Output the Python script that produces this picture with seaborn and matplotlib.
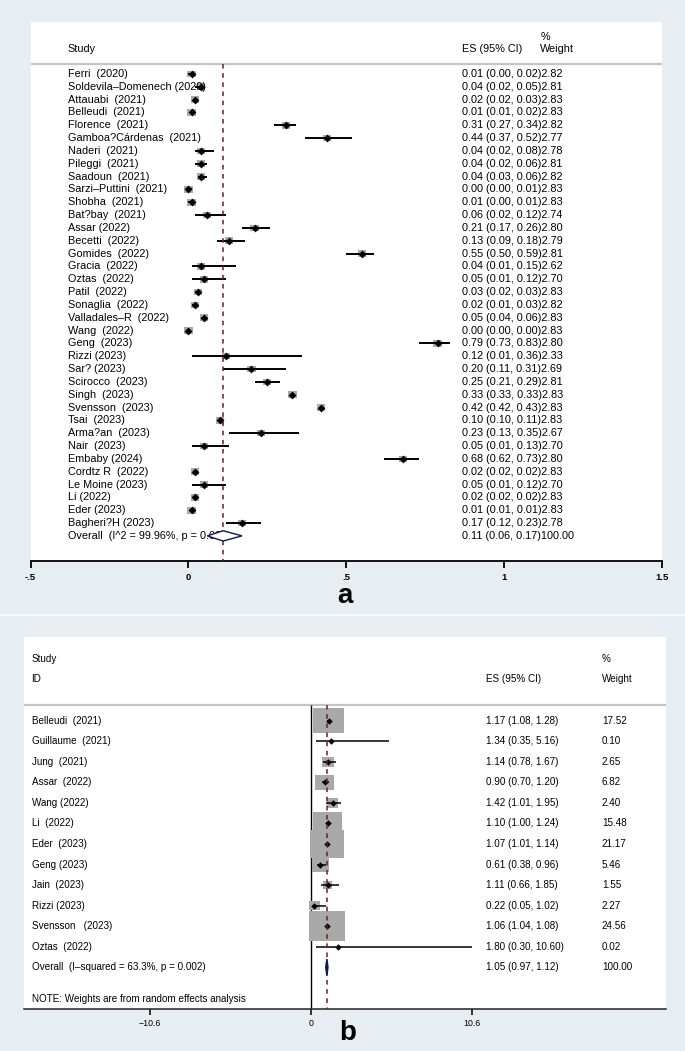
import matplotlib
matplotlib.use("Agg")
import matplotlib.pyplot as plt
import seaborn as sns
import pandas as pd

# ---- panel a : proportions ----
studies_a = [
    "Ferri  (2020)", "Soldevila\u2013Domenech (2020)", "Attauabi  (2021)", "Belleudi  (2021)",
    "Florence  (2021)", "Gamboa?C\u00e1rdenas  (2021)", "Naderi  (2021)", "Pileggi  (2021)",
    "Saadoun  (2021)", "Sarzi\u2013Puttini  (2021)", "Shobha  (2021)", "Bat?bay  (2021)",
    "Assar (2022)", "Becetti  (2022)", "Gomides  (2022)", "Gracia  (2022)",
    "Oztas  (2022)", "Patil  (2022)", "Sonaglia  (2022)", "Valladales\u2013R  (2022)",
    "Wang  (2022)", "Geng  (2023)", "Rizzi (2023)", "Sar? (2023)",
    "Scirocco  (2023)", "Singh  (2023)", "Svensson  (2023)", "Tsai  (2023)",
    "Arma?an  (2023)", "Nair  (2023)", "Embaby (2024)", "Cordtz R  (2022)",
    "Le Moine (2023)", "Li (2022)", "Eder (2023)", "Bagheri?H (2023)",
]
es_a = [0.01, 0.04, 0.02, 0.01, 0.31, 0.44, 0.04, 0.04, 0.04, 0.00, 0.01, 0.06,
        0.21, 0.13, 0.55, 0.04, 0.05, 0.03, 0.02, 0.05, 0.00, 0.79, 0.12, 0.20,
        0.25, 0.33, 0.42, 0.10, 0.23, 0.05, 0.68, 0.02, 0.05, 0.02, 0.01, 0.17]
lo_a = [0.00, 0.02, 0.02, 0.01, 0.27, 0.37, 0.02, 0.02, 0.03, 0.00, 0.00, 0.02,
        0.17, 0.09, 0.50, 0.01, 0.01, 0.02, 0.01, 0.04, 0.00, 0.73, 0.01, 0.11,
        0.21, 0.33, 0.42, 0.10, 0.13, 0.01, 0.62, 0.02, 0.01, 0.02, 0.01, 0.12]
hi_a = [0.02, 0.05, 0.03, 0.02, 0.34, 0.52, 0.08, 0.06, 0.06, 0.01, 0.01, 0.12,
        0.26, 0.18, 0.59, 0.15, 0.12, 0.03, 0.03, 0.06, 0.00, 0.83, 0.36, 0.31,
        0.29, 0.33, 0.43, 0.11, 0.35, 0.13, 0.73, 0.02, 0.12, 0.02, 0.01, 0.23]
wt_a = [2.82, 2.81, 2.83, 2.83, 2.82, 2.77, 2.78, 2.81, 2.82, 2.83, 2.83, 2.74,
        2.80, 2.79, 2.81, 2.62, 2.70, 2.83, 2.82, 2.83, 2.83, 2.80, 2.33, 2.69,
        2.81, 2.83, 2.83, 2.83, 2.67, 2.70, 2.80, 2.83, 2.70, 2.83, 2.83, 2.78]
overall_a_label = "Overall  (I^2 = 99.96%, p = 0.00)"
overall_a = [0.11, 0.06, 0.17, 100.00]   # es, lo, hi, weight
ticks_a = [-0.5, 0, 0.5, 1, 1.5]
ticklabels_a = ["-.5", "0", ".5", "1", "1.5"]

# ---- panel b : ratios ----
studies_b = [
    "Belleudi  (2021)", "Guillaume  (2021)", "Jung  (2021)", "Assar  (2022)",
    "Wang (2022)", "Li  (2022)", "Eder  (2023)", "Geng (2023)",
    "Jain  (2023)", "Rizzi (2023)", "Svensson   (2023)", "Oztas  (2022)",
]
es_b = [1.17, 1.34, 1.14, 0.90, 1.42, 1.10, 1.07, 0.61, 1.11, 0.22, 1.06, 1.80]
lo_b = [1.08, 0.35, 0.78, 0.70, 1.01, 1.00, 1.01, 0.38, 0.66, 0.05, 1.04, 0.30]
hi_b = [1.28, 5.16, 1.67, 1.20, 1.95, 1.24, 1.14, 0.96, 1.85, 1.02, 1.08, 10.60]
wt_b = [17.52, 0.10, 2.65, 6.82, 2.40, 15.48, 21.17, 5.46, 1.55, 2.27, 24.56, 0.02]
overall_b_label = "Overall  (I\u2013squared = 63.3%, p = 0.002)"
overall_b = [1.05, 0.97, 1.12, 100.00]
note_b = "NOTE: Weights are from random effects analysis"
ticks_b = [-10.6, 0, 10.6]
ticklabels_b = ["\u221210.6", "0", "10.6"]

bg = "#e8edf2"
maroon = "#6e1c24"
navy = "#101a4a"
box_grey = "#a9a9a9"

sns.set_style("white")
plt.rcParams["font.family"] = ["Liberation Sans", "DejaVu Sans"]
plt.rcParams["text.color"] = "black"
plt.rcParams["xtick.color"] = "black"

W, H = 685, 1051
fig = plt.figure(figsize=(W / 100, H / 100), dpi=100, facecolor=bg)


def px_axes(l, t, r, b):
    return fig.add_axes([l / W, 1 - b / H, (r - l) / W, (b - t) / H])


def forest(ax, df, overall, px_unit, row0, drow, top, bottom,
           box_w, box_h, dot_s, ci_lw, diam_h, diam_fc, head_row):
    ax.set_facecolor("white")
    # weight boxes (size ~ sqrt of weight)
    w = (df.wt ** 0.5) * box_w / px_unit
    h = (df.wt ** 0.5) * box_h / drow
    ax.bar(df.es, h, width=w, bottom=df.row - h / 2, color=box_grey,
           edgecolor="none", zorder=2)
    ax.hlines(df.row, df.lo, df.hi, colors="black", lw=ci_lw, zorder=3)
    sns.scatterplot(data=df, x="es", y="row", marker="D", color="black",
                    s=dot_s, linewidth=0, ax=ax, zorder=4, legend=False)
    r = len(df)
    es, lo, hi = overall[0], overall[1], overall[2]
    ax.fill([lo, es, hi, es], [r, r - diam_h / 2, r, r + diam_h / 2],
            facecolor=diam_fc, edgecolor=navy, lw=1.0, zorder=6)
    ax.vlines(es, head_row, (bottom - row0) / drow, colors=maroon,
              linestyles=(0, (3, 3)), lw=1.1, zorder=5)
    ax.axhline(head_row, color="#c4c4c4", lw=1.6, zorder=1)
    ax.set_ylim((bottom - row0) / drow, (top - row0) / drow)
    ax.set_xlabel("")
    ax.set_ylabel("")
    ax.set_yticks([])
    for s in ["top", "left", "right"]:
        ax.spines[s].set_visible(False)
    ax.spines["bottom"].set_color("black")


# ---------------- panel a ----------------
ax_a = px_axes(30.6, 22, 661.6, 561)
df_a = pd.DataFrame({"study": studies_a, "es": es_a, "lo": lo_a, "hi": hi_a,
                     "wt": wt_a})
df_a["row"] = range(len(df_a))
row0_a, drow_a = 74, 12.83
ax_a.set_xlim(-0.5, 1.5)
forest(ax_a, df_a, overall_a, 315.5, row0_a, drow_a, 22, 561,
       box_w=4.94, box_h=3.99, dot_s=16, ci_lw=1.4, diam_h=0.8,
       diam_fc="white", head_row=(64 - row0_a) / drow_a)
tr = ax_a.get_yaxis_transform()
xl, xe, xw = 0.0585, 0.683, 0.808
fs = 7.8
for _, d in df_a.iterrows():
    ax_a.text(xl, d.row, d.study, transform=tr, fontsize=fs, va="center", zorder=3)
    ax_a.text(xe, d.row, f"{d.es:.2f} ({d.lo:.2f}, {d.hi:.2f}){d.wt:.2f}",
              transform=tr, fontsize=fs, va="center")
n = len(df_a)
ax_a.text(xl, n, overall_a_label, transform=tr, fontsize=fs, va="center", zorder=3)
ax_a.text(xe, n, f"{overall_a[0]:.2f} ({overall_a[1]:.2f}, {overall_a[2]:.2f}){overall_a[3]:.2f}",
          transform=tr, fontsize=fs, va="center")
ax_a.text(xl, (48.7 - row0_a) / drow_a, "Study", transform=tr, fontsize=fs, va="center")
ax_a.text(xe, (48.7 - row0_a) / drow_a, "ES (95% CI)", transform=tr, fontsize=fs, va="center")
ax_a.text(xw, (36.7 - row0_a) / drow_a, "%", transform=tr, fontsize=fs, va="center")
ax_a.text(xw, (48.7 - row0_a) / drow_a, "Weight", transform=tr, fontsize=fs, va="center")
ax_a.set_xticks(ticks_a)
ax_a.set_xticklabels(ticklabels_a, fontsize=6.8, fontweight="bold")
ax_a.spines["bottom"].set_linewidth(1.3)
ax_a.tick_params(axis="x", direction="out", length=5, width=1.3, pad=3.5, bottom=True)
fig.text(345 / W, 1 - 603 / H, "a", fontsize=20, fontweight="bold",
         ha="center", va="baseline")

# separator between the two panels
fig.add_artist(plt.Line2D([0, 1], [1 - 615 / H] * 2, color="#f8fafb", lw=1.2,
                          transform=fig.transFigure))

# ---------------- panel b ----------------
ax_b = px_axes(24, 637, 666, 1009)
df_b = pd.DataFrame({"study": studies_b, "es": es_b, "lo": lo_b, "hi": hi_b,
                     "wt": wt_b})
df_b["row"] = range(len(df_b))
row0_b, drow_b = 720.7, 20.55
px_b = 15.16
ax_b.set_xlim((24 - 311) / px_b, (666 - 311) / px_b)
head_b = (705 - row0_b) / drow_b
forest(ax_b, df_b, overall_b, px_b, row0_b, drow_b, 637, 1009,
       box_w=7.3, box_h=5.95, dot_s=11, ci_lw=1.1, diam_h=0.81,
       diam_fc=navy, head_row=head_b)
ax_b.vlines(0, head_b, (1009 - row0_b) / drow_b, colors="black", lw=1.0, zorder=1)
tr = ax_b.get_yaxis_transform()
xl, xe, xw = 0.0117, 0.7196, 0.9003
fs = 7.1
for _, d in df_b.iterrows():
    ax_b.text(xl, d.row, d.study, transform=tr, fontsize=fs, va="center")
    ax_b.text(xe, d.row, f"{d.es:.2f} ({d.lo:.2f}, {d.hi:.2f})", transform=tr,
              fontsize=fs, va="center")
    ax_b.text(xw, d.row, f"{d.wt:.2f}", transform=tr, fontsize=fs, va="center")
n = len(df_b)
ax_b.text(xl, n, overall_b_label, transform=tr, fontsize=fs, va="center")
ax_b.text(xe, n, f"{overall_b[0]:.2f} ({overall_b[1]:.2f}, {overall_b[2]:.2f})",
          transform=tr, fontsize=fs, va="center")
ax_b.text(xw, n, f"{overall_b[3]:.2f}", transform=tr, fontsize=fs, va="center")
ax_b.text(xl, (999.3 - row0_b) / drow_b, note_b, transform=tr, fontsize=fs, va="center")
ax_b.text(xl, (659 - row0_b) / drow_b, "Study", transform=tr, fontsize=fs, va="center")
ax_b.text(xl, (679 - row0_b) / drow_b, "ID", transform=tr, fontsize=fs, va="center")
ax_b.text(xe, (679 - row0_b) / drow_b, "ES (95% CI)", transform=tr, fontsize=fs, va="center")
ax_b.text(xw, (659 - row0_b) / drow_b, "%", transform=tr, fontsize=fs, va="center")
ax_b.text(xw, (679 - row0_b) / drow_b, "Weight", transform=tr, fontsize=fs, va="center")
ax_b.set_xticks(ticks_b)
ax_b.set_xticklabels(ticklabels_b, fontsize=6.3)
ax_b.spines["bottom"].set_linewidth(1.1)
ax_b.spines["bottom"].set_color("#222222")
ax_b.tick_params(axis="x", direction="out", length=4, width=1.1, pad=3, bottom=True)
fig.text(348 / W, 1 - 1040 / H, "b", fontsize=20, fontweight="bold",
         ha="center", va="baseline")

fig.savefig("out.png", dpi=100, facecolor=bg)
